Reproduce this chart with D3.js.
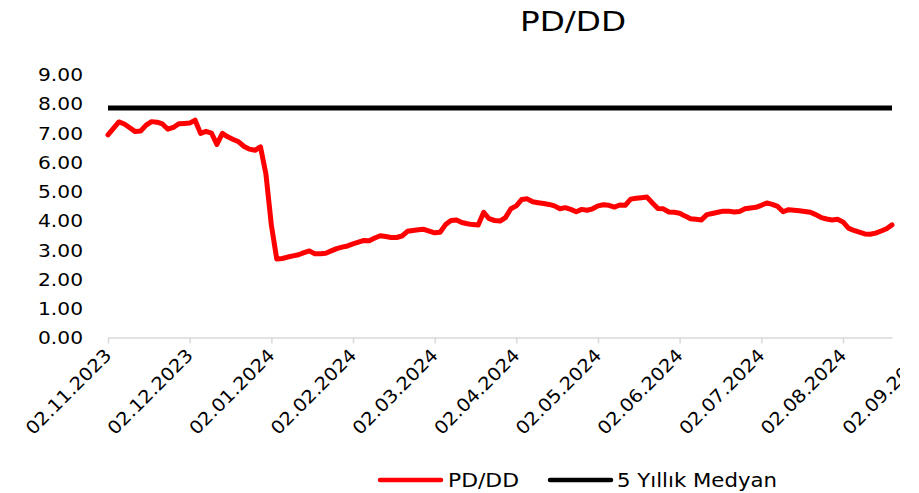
<!DOCTYPE html>
<html>
<head>
<meta charset="utf-8">
<script src="https://cdn.jsdelivr.net/npm/d3@7"></script>
<style>
  html, body { margin: 0; padding: 0; background: #ffffff; }
  svg { display: block; }
  text { font-family: "DejaVu Sans", "Noto Sans", sans-serif; fill: #000; }
</style>
</head>
<body>
<div id="chart"></div>
<script>
// ---- data ----
const title = "PD/DD";
const seriesNames = ["PD/DD", "5 Yıllık Medyan"];
const tickLabels = ["02.11.2023","02.12.2023","02.01.2024","02.02.2024","02.03.2024","02.04.2024","02.05.2024","02.06.2024","02.07.2024","02.08.2024","02.09.2024"];
const pointsPerLabel = 15;
const pddValues = [
  6.93,7.15,7.37,7.30,7.17,7.04,7.06,7.26,7.38,7.36,
  7.30,7.12,7.18,7.31,7.32,7.33,7.43,6.98,7.05,6.99,
  6.60,6.98,6.86,6.77,6.69,6.53,6.44,6.40,6.52,5.60,
  3.85,2.68,2.70,2.75,2.79,2.83,2.90,2.96,2.86,2.86,
  2.88,2.96,3.04,3.09,3.13,3.20,3.26,3.32,3.31,3.40,
  3.48,3.45,3.42,3.42,3.47,3.63,3.66,3.68,3.70,3.64,
  3.58,3.60,3.86,4.00,4.02,3.93,3.89,3.86,3.85,4.28,
  4.06,4.00,3.98,4.10,4.40,4.50,4.72,4.74,4.64,4.61,
  4.58,4.55,4.50,4.40,4.44,4.38,4.30,4.38,4.35,4.40,
  4.50,4.54,4.52,4.46,4.53,4.52,4.73,4.76,4.78,4.80,
  4.60,4.41,4.40,4.29,4.28,4.25,4.15,4.06,4.04,4.02,
  4.20,4.24,4.28,4.32,4.32,4.29,4.31,4.40,4.43,4.45,
  4.52,4.60,4.55,4.48,4.30,4.37,4.35,4.33,4.31,4.28,
  4.20,4.10,4.05,4.02,4.04,3.95,3.74,3.66,3.60,3.54,
  3.53,3.57,3.64,3.72,3.85
];
const medianValue = 7.85;
const yTicks = [0,1,2,3,4,5,6,7,8,9];

// ---- layout ----
const W = 919, H = 493;
const svg = d3.select("#chart").append("svg").attr("width", W).attr("height", H);
svg.append("rect").attr("width", W).attr("height", H).attr("fill", "#fff");

svg.append("defs").append("clipPath").attr("id", "chartArea")
  .append("rect").attr("x", 0).attr("y", 0).attr("width", 900).attr("height", H);

const x = d3.scaleLinear().domain([0, pddValues.length - 1]).range([108, 892]);
const y = d3.scaleLinear().domain([0, 9]).range([337.5, 74.25]);

// title
svg.append("text").attr("x", 573).attr("y", 31).attr("text-anchor", "middle")
  .attr("font-size", 26).attr("textLength", 106).attr("lengthAdjust", "spacingAndGlyphs")
  .text(title);

// y axis labels (no line)
const yAxis = d3.axisLeft(y).tickValues(yTicks).tickSize(0).tickPadding(0).tickFormat(d3.format(".2f"));
const gy = svg.append("g").attr("transform", "translate(83,0)").call(yAxis);
gy.select(".domain").remove();
gy.selectAll("text").attr("font-size", 18).attr("dy", "0.36em").attr("x", 0)
  .attr("font-family", "DejaVu Sans").attr("fill", "#000")
  .attr("textLength", 45).attr("lengthAdjust", "spacingAndGlyphs");

// x axis
const tickIdx = tickLabels.map((d, i) => i * pointsPerLabel);
const xAxis = d3.axisBottom(x).tickValues(tickIdx).tickSize(6).tickSizeOuter(0)
  .tickFormat((d, i) => tickLabels[i]);
const gx = svg.append("g").attr("clip-path", "url(#chartArea)")
  .append("g").attr("transform", `translate(0,${y(0)})`).call(xAxis);
gx.select(".domain").attr("stroke", "#d9d9d9").attr("stroke-width", 1.5);
gx.selectAll(".tick line").attr("stroke", "#d9d9d9").attr("stroke-width", 1.5);
gx.selectAll(".tick text")
  .attr("x", 0).attr("y", 0).attr("dy", 0)
  .attr("text-anchor", "end")
  .attr("transform", "translate(4,19) rotate(-45)")
  .attr("font-size", 18).attr("font-family", "DejaVu Sans").attr("fill", "#000")
  .attr("textLength", 112).attr("lengthAdjust", "spacingAndGlyphs");

// median line
const medianData = [0, pddValues.length - 1].map(i => ({ i, v: medianValue }));
const line = d3.line().x(d => x(d.i)).y(d => y(d.v));
svg.append("path").datum(medianData).attr("d", line)
  .attr("fill", "none").attr("stroke", "#000").attr("stroke-width", 5);

// PD/DD line
const pddData = pddValues.map((v, i) => ({ i, v }));
svg.append("path").datum(pddData).attr("d", line)
  .attr("fill", "none").attr("stroke", "#ff0000").attr("stroke-width", 5)
  .attr("stroke-linejoin", "round").attr("stroke-linecap", "round");

// legend
const legend = svg.append("g");
const legItems = [
  { name: seriesNames[0], color: "#ff0000", x1: 380, x2: 441, tx: 448, tw: 71 },
  { name: seriesNames[1], color: "#000000", x1: 550, x2: 611, tx: 617, tw: 160 }
];
legItems.forEach(d => {
  legend.append("line").attr("x1", d.x1).attr("x2", d.x2).attr("y1", 480).attr("y2", 480)
    .attr("stroke", d.color).attr("stroke-width", 4.5).attr("stroke-linecap", "round");
  legend.append("text").attr("x", d.tx).attr("y", 487).attr("font-size", 19)
    .attr("textLength", d.tw).attr("lengthAdjust", "spacingAndGlyphs").text(d.name);
});
</script>
</body>
</html>
